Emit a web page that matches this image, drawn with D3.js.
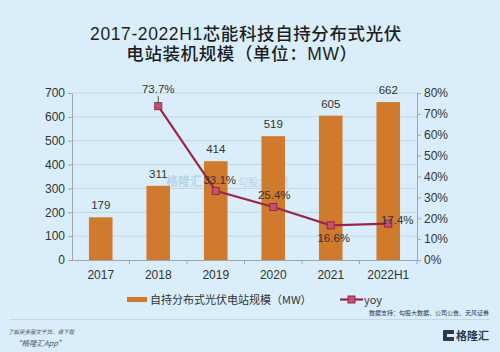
<!DOCTYPE html>
<html><head><meta charset="utf-8">
<script src="https://cdn.jsdelivr.net/npm/d3@7"></script>
<style>
html,body{margin:0;padding:0;background:#d9eefa;}
svg{display:block;font-family:"Noto Sans CJK SC","Noto Sans",sans-serif;}
</style></head><body>
<svg id="c" width="500" height="352"></svg>
<script>
const categories = ["2017","2018","2019","2020","2021","2022H1"];
const capacity = [179, 311, 414, 519, 605, 662];
const yoy = [null, 73.7, 33.1, 25.4, 16.6, 17.4];
const leftTicks = [0,100,200,300,400,500,600,700];
const rightTicks = [0,10,20,30,40,50,60,70,80];

const svg = d3.select("#c");
const W = 500, H = 352;
svg.append("rect").attr("width",W).attr("height",H).attr("fill","#d9eefa");

const m = {l:72, r:417, t:93, b:260};
const x = d3.scaleBand().domain(categories).range([m.l, m.r]).paddingInner(0.59).paddingOuter(0.295);
const xb = d3.scaleBand().domain(categories).range([m.l, m.r]);
const yL = d3.scaleLinear().domain([0,700]).range([m.b, m.t]);
const yR = d3.scaleLinear().domain([0,80]).range([m.b, m.t]);

// title
const tf = "'Liberation Sans','Noto Sans CJK SC',sans-serif";
svg.append("text").attr("x",246).attr("y",39.5).attr("text-anchor","middle").attr("font-family",tf)
  .attr("font-size",17.5).attr("font-weight",500).attr("fill","#1e1e1e").attr("letter-spacing",0.6)
  .text("2017-2022H1芯能科技自持分布式光伏");
svg.append("text").attr("x",242).attr("y",60).attr("text-anchor","middle").attr("font-family",tf)
  .attr("font-size",17.5).attr("font-weight",500).attr("fill","#1e1e1e").attr("letter-spacing",0.6)
  .text("电站装机规模（单位：MW）");

// grid
svg.append("g").selectAll("line").data(leftTicks.slice(1)).join("line")
  .attr("x1",m.l).attr("x2",m.r).attr("y1",d=>yL(d)).attr("y2",d=>yL(d))
  .attr("stroke","#c4d6e0").attr("stroke-width",1);

// watermark
svg.append("text").attr("x",166).attr("y",186).attr("font-size",12).attr("fill","#9fc3dc").attr("opacity",0.6)
  .attr("font-weight",700).text("格隆汇");
svg.append("text").attr("x",238).attr("y",186).attr("font-size",10).attr("fill","#9fc3dc").attr("opacity",0.6)
  .text("勾股大数据");

// bars
svg.append("g").selectAll("rect").data(categories).join("rect")
  .attr("x",d=>x(d)).attr("width",x.bandwidth())
  .attr("y",(d,i)=>yL(capacity[i])).attr("height",(d,i)=>m.b-yL(capacity[i]))
  .attr("fill","#cf7a2d");
svg.append("g").selectAll("text").data(categories).join("text")
  .attr("x",d=>xb(d)+xb.bandwidth()/2).attr("y",(d,i)=>yL(capacity[i])-8)
  .attr("text-anchor","middle").attr("font-size",11.5).attr("fill","#333")
  .attr("font-family","Liberation Sans, Arial, sans-serif")
  .text((d,i)=>capacity[i]);

// axes
const axL = d3.axisLeft(yL).tickValues(leftTicks).tickSize(4).tickSizeOuter(0);
const gL = svg.append("g").attr("transform",`translate(${m.l},0)`).call(axL);
const axR = d3.axisRight(yR).tickValues(rightTicks).tickSize(4).tickSizeOuter(0).tickFormat(d=>d+"%");
const gR = svg.append("g").attr("transform",`translate(${m.r},0)`).call(axR);
const axB = d3.axisBottom(xb).tickSize(0).tickSizeOuter(0);
const gB = svg.append("g").attr("transform",`translate(0,${m.b})`).call(axB);
gB.selectAll("text").attr("dy","1.35em");
gB.append("g").selectAll("line").data(categories.slice(1).concat(["end"])).join("line")
  .attr("x1",(d,i)=>m.l+xb.step()*(i+1)).attr("x2",(d,i)=>m.l+xb.step()*(i+1))
  .attr("y1",0).attr("y2",4).attr("stroke","#9aa8b0");
[gL,gR,gB].forEach(g=>{
  g.selectAll(".domain,.tick line").attr("stroke","#9aa8b0");
  g.selectAll("text").attr("font-size",12).attr("fill","#333")
   .attr("font-family","Liberation Sans, Arial, sans-serif");
});

// yoy line
const pts = categories.map((c,i)=>({c, v:yoy[i]})).filter(d=>d.v!==null);
const line = d3.line().x(d=>xb(d.c)+xb.bandwidth()/2).y(d=>yR(d.v));
svg.append("path").datum(pts).attr("d",line).attr("fill","none")
  .attr("stroke","#9b2548").attr("stroke-width",2.2);
svg.append("g").selectAll("rect").data(pts).join("rect")
  .attr("x",d=>xb(d.c)+xb.bandwidth()/2-3.5).attr("y",d=>yR(d.v)-3.5)
  .attr("width",7).attr("height",7).attr("fill","#c4526f").attr("stroke","#9b2548").attr("stroke-width",1);
const off = {"2018":[0,-17],"2019":[4,-11],"2020":[1,-12],"2021":[3,13],"2022H1":[9,-4]};
svg.append("g").selectAll("text").data(pts).join("text")
  .attr("x",d=>xb(d.c)+xb.bandwidth()/2+off[d.c][0]).attr("y",d=>yR(d.v)+off[d.c][1]+4)
  .attr("text-anchor","middle").attr("font-size",11.5).attr("fill","#333")
  .attr("font-family","Liberation Sans, Arial, sans-serif")
  .text(d=>d.v.toFixed(1)+"%");
// 2018 small tick to label
svg.append("line").attr("x1",xb("2018")+xb.bandwidth()/2).attr("x2",xb("2018")+xb.bandwidth()/2)
  .attr("y1",yR(73.7)-10).attr("y2",yR(73.7)-3).attr("stroke","#555").attr("stroke-width",1);

// legend
svg.append("rect").attr("x",127).attr("y",297).attr("width",20).attr("height",5).attr("fill","#cf7a2d");
svg.append("text").attr("x",150).attr("y",304).attr("font-size",11).attr("fill","#333").text("自持分布式光伏电站规模（MW）");
svg.append("line").attr("x1",340).attr("x2",363).attr("y1",299.5).attr("y2",299.5).attr("stroke","#9b2548").attr("stroke-width",2.2);
svg.append("rect").attr("x",348).attr("y",296).attr("width",7).attr("height",7).attr("fill","#c4526f").attr("stroke","#9b2548");
svg.append("text").attr("x",364).attr("y",304).attr("font-size",11).attr("fill","#333").text("yoy");

// source
svg.append("text").attr("x",489).attr("y",315).attr("text-anchor","end").attr("font-size",6).attr("fill","#333")
  .text("数据支持：勾股大数据、公司公告、天风证券");
svg.append("line").attr("x1",10).attr("x2",490).attr("y1",319.5).attr("y2",319.5).attr("stroke","#c2d8e4");

// footer
svg.append("text").attr("x",8).attr("y",334).attr("font-size",5.5).attr("fill","#555").attr("font-style","italic")
  .text("了解更多股文干货，请下载");
svg.append("text").attr("x",14).attr("y",346).attr("font-size",7.5).attr("fill","#555").attr("font-style","italic")
  .text("“格隆汇App”");
// logo
svg.append("rect").attr("x",443).attr("y",330).attr("width",11).attr("height",11).attr("fill","#2b3a4a").attr("rx",1);
svg.append("rect").attr("x",447).attr("y",334).attr("width",7).attr("height",3).attr("fill","#d9eefa");
svg.append("text").attr("x",456).attr("y",340).attr("font-size",11).attr("font-weight",700).attr("fill","#2b3a4a").text("格隆汇");
</script></body></html>
